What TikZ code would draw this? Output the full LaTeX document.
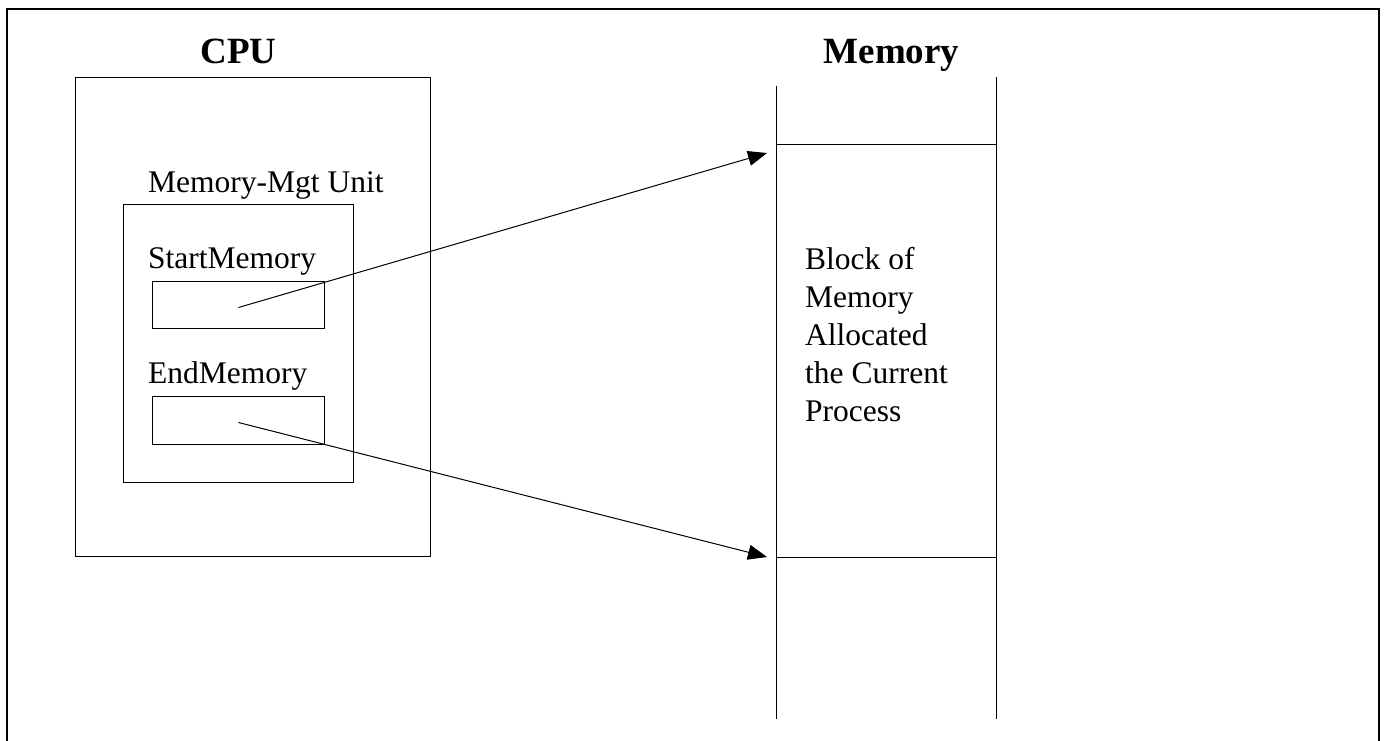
\documentclass[tikz,border=0pt]{standalone}
\usepackage{fontspec}
\setmainfont{Liberation Serif}
\usetikzlibrary{arrows.meta}
\begin{document}
\begin{tikzpicture}[x=1pt,y=-1pt,
  box/.style={draw, line width=1pt, inner sep=0, anchor=north west},
  title/.style={font=\fontsize{37}{44}\selectfont\bfseries, inner sep=0, anchor=base},
  lbl/.style={font=\fontsize{31.5}{38}\selectfont, inner sep=0, anchor=base west},
  col/.style={line width=1pt},
  ptr/.style={line width=1pt, -{Triangle[length=19pt,width=15pt]}},
  frame/.style={line width=2.5pt}]
\useasboundingbox (0,0) rectangle (1385,740);
% outer frame (open at the bottom)
\draw[frame] (7,745) -- (7,9) -- (1379,9) -- (1379,745);
% titles
\node[title] (cputitle) at (238.5,63) {CPU};
\node[title] (memtitle) at (891.5,63) {Memory};
% CPU box
\node[box, minimum width=355pt, minimum height=479pt] (cpu) at (75,77) {};
% MMU
\node[lbl] (mmulbl) at (148,192) {Memory-Mgt Unit};
\node[box, minimum width=230pt, minimum height=278pt] (mmu) at (123,204) {};
\node[lbl] (startlbl) at (148,268) {StartMemory};
\node[box, minimum width=172pt, minimum height=47pt] (startbox) at (152,281) {};
\node[lbl] (endlbl) at (148,383) {EndMemory};
\node[box, minimum width=172pt, minimum height=48pt] (endbox) at (152,396) {};
% memory column
\coordinate (mlt) at (776,86);
\coordinate (mlb) at (776,719);
\coordinate (mrt) at (996,77);
\coordinate (mrb) at (996,719);
\coordinate (m1l) at (776,144);
\coordinate (m1r) at (996,144);
\coordinate (m2l) at (776,557);
\coordinate (m2r) at (996,557);
\draw[col] (mlt) -- (mlb);
\draw[col] (mrt) -- (mrb);
\draw[col] (m1l) -- (m1r);
\draw[col] (m2l) -- (m2r);
\node[font=\fontsize{31.5}{38}\selectfont, align=left, inner sep=0, anchor=north west] (block) at (805,247.5)
  {Block of\\Memory\\Allocated\\the Current\\Process};
% pointers
\coordinate (tip1) at (767,153);
\coordinate (tip2) at (767,557);
\draw[ptr] (startbox.center) ++(0,2.5) coordinate (s1) (s1) -- (tip1);
\draw[ptr] (endbox.center) ++(0,2) coordinate (s2) (s2) -- (tip2);
\end{tikzpicture}
\end{document}
